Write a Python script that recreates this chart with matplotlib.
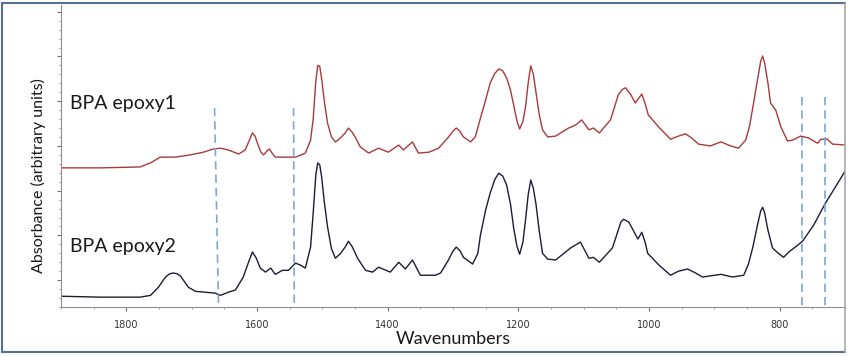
import numpy as np
import matplotlib
matplotlib.use('Agg')
import matplotlib.pyplot as plt
from matplotlib.lines import Line2D
from matplotlib.ticker import MultipleLocator

# wavenumber / absorbance (arbitrary units)
wn_1 = [1898, 1840, 1779, 1763, 1748, 1725, 1702, 1682, 1667, 1656, 1644, 1628, 1618, 1611,
        1607, 1603, 1599, 1594, 1590, 1584, 1581, 1576, 1572, 1557, 1541, 1526, 1518, 1514,
        1510, 1507, 1504, 1501, 1497, 1492, 1486, 1480, 1472, 1465, 1460, 1454, 1449, 1442,
        1429, 1414, 1399, 1383, 1376, 1362, 1353, 1337, 1322, 1308, 1300, 1295, 1289, 1284,
        1273, 1266, 1258, 1250, 1243, 1236, 1230, 1224, 1218, 1212, 1207, 1202, 1198, 1193,
        1189, 1185, 1181, 1177, 1173, 1168, 1163, 1155, 1143, 1123, 1112, 1103, 1092, 1085,
        1076, 1059, 1047, 1041, 1036, 1028, 1021, 1011, 1006, 1001, 985, 967, 955, 944, 935,
        924, 906, 890, 875, 863, 852, 846, 841, 834, 829, 826, 823, 818, 814, 806, 798, 788,
        780, 768, 756, 742, 737, 727, 719, 699]
abs_1 = [2.51, 2.51, 2.53, 2.62, 2.75, 2.75, 2.80, 2.86, 2.93, 2.95, 2.91, 2.82, 2.91, 3.15,
         3.29, 3.22, 3.05, 2.86, 2.80, 2.90, 2.93, 2.82, 2.75, 2.75, 2.75, 2.84, 3.13, 3.60,
         4.45, 4.80, 4.78, 4.50, 4.00, 3.51, 3.20, 3.09, 3.18, 3.29, 3.40, 3.30, 3.18, 2.98,
         2.84, 2.95, 2.86, 3.02, 2.91, 3.09, 2.84, 2.86, 2.95, 3.18, 3.33, 3.40, 3.32, 3.20,
         3.09, 3.20, 3.62, 4.03, 4.41, 4.62, 4.72, 4.68, 4.52, 4.25, 3.90, 3.55, 3.38, 3.55,
         3.87, 4.40, 4.79, 4.60, 4.20, 3.70, 3.36, 3.20, 3.22, 3.40, 3.47, 3.58, 3.36, 3.40,
         3.29, 3.58, 4.14, 4.26, 4.30, 4.15, 3.96, 4.16, 3.95, 3.69, 3.42, 3.15, 3.22, 3.27, 3.18,
         3.04, 3.00, 3.09, 3.00, 2.95, 3.13, 3.45, 3.87, 4.47, 4.90, 5.01, 4.85, 4.41, 3.96, 3.80,
         3.42, 3.11, 3.13, 3.22, 3.18, 3.06, 3.15, 3.15, 3.04, 3.02]

wn_2 = [1898, 1840, 1779, 1763, 1751, 1740, 1734, 1728, 1722, 1717, 1705, 1694, 1679, 1664,
        1656, 1644, 1633, 1621, 1613, 1607, 1601, 1595, 1587, 1579, 1572, 1561, 1552, 1541,
        1534, 1526, 1518, 1514, 1510, 1507, 1504, 1501, 1497, 1492, 1486, 1480, 1472, 1465,
        1460, 1454, 1446, 1434, 1423, 1414, 1396, 1383, 1373, 1362, 1350, 1327, 1319, 1307,
        1300, 1295, 1289, 1284, 1270, 1262, 1258, 1250, 1243, 1236, 1230, 1224, 1218, 1212,
        1207, 1202, 1198, 1193, 1189, 1185, 1181, 1177, 1173, 1168, 1163, 1155, 1143, 1120,
        1105, 1092, 1085, 1076, 1056, 1047, 1043, 1039, 1031, 1017, 1011, 1006, 1002, 985, 967,
        955, 941, 930, 918, 890, 872, 855, 848, 841, 834, 829, 826, 823, 818, 811, 802, 794,
        786, 776, 765, 748, 730, 711, 699]
abs_2 = [-0.36, -0.38, -0.38, -0.34, -0.16, 0.07, 0.14, 0.16, 0.14, 0.09, -0.16, -0.25, -0.27,
         -0.29, -0.34, -0.27, -0.22, 0.07, 0.40, 0.63, 0.49, 0.27, 0.18, 0.27, 0.13, 0.22, 0.22,
         0.38, 0.34, 0.27, 0.74, 1.50, 2.35, 2.62, 2.58, 2.30, 1.75, 1.19, 0.70, 0.49, 0.60,
         0.74, 0.87, 0.74, 0.49, 0.22, 0.18, 0.29, 0.18, 0.40, 0.25, 0.45, 0.11, 0.11, 0.16,
         0.45, 0.65, 0.74, 0.65, 0.51, 0.36, 0.60, 1.01, 1.57, 1.95, 2.25, 2.39, 2.33, 2.13,
         1.70, 1.15, 0.75, 0.58, 0.85, 1.34, 1.90, 2.24, 2.05, 1.70, 1.10, 0.60, 0.47, 0.45,
         0.72, 0.85, 0.49, 0.51, 0.40, 0.72, 1.12, 1.30, 1.36, 1.30, 0.92, 1.07, 0.85, 0.60,
         0.34, 0.11, 0.20, 0.25, 0.17, 0.07, 0.13, 0.07, 0.11, 0.35, 0.74, 1.23, 1.55, 1.63,
         1.50, 1.12, 0.72, 0.60, 0.51, 0.63, 0.74, 0.87, 1.23, 1.72, 2.17, 2.46]

# dashed marker lines: (wn top, wn bottom, y top, y bottom)
marker_lines = [(1665, 1659, 3.85, -0.52), (1544, 1543, 3.85, -0.56),
                (766, 766, 4.09, -0.6), (731, 731, 4.09, -0.6)]

labels = ['BPA epoxy1', 'BPA epoxy2']
label_y = [3.94, 0.76]

fig = plt.figure(figsize=(8.5, 3.57), dpi=100)
ax = fig.add_axes([61/850, 50/357, 784/850, 302/357])

ax.plot(wn_1, abs_1, color='#a83a3c', lw=1.0)
ax.plot(wn_2, abs_2, color='#1c1c38', lw=1.0)

for x0, x1, y0, y1 in marker_lines:
    ax.plot([x0, x1], [y0, y1], color='#7fa7d4', lw=1.2, ls=(0, (5, 3)))

for lab, yy in zip(labels, label_y):
    ax.text(1886, yy, lab, fontsize=14, family='Lato', color='#1a1a1a', va='center', ha='left')

ax.set_xlim(1900, 700)
ax.set_ylim(-0.6, 6.15)
ax.xaxis.set_major_locator(MultipleLocator(200))
ax.xaxis.set_minor_locator(MultipleLocator(50))
ax.yaxis.set_major_locator(MultipleLocator(1))
ax.yaxis.set_minor_locator(MultipleLocator(0.2))
ax.tick_params(axis='both', which='major', direction='out', length=3, color='#707070',
               labelsize=7, labelcolor='#333333', pad=6)
ax.tick_params(axis='both', which='minor', direction='out', length=1.5, color='#909090')
ax.yaxis.set_major_formatter(plt.NullFormatter())

for s in ['top', 'right']:
    ax.spines[s].set_visible(False)
for s in ['left', 'bottom']:
    ax.spines[s].set_color('#909090')

ax.set_xlabel('Wavenumbers', fontsize=13, family='Lato', color='#1a1a1a')
ax.xaxis.set_label_coords(0.5, -0.106)
ax.xaxis.label.set_va('center')
ax.set_ylabel('Absorbance (arbitrary units)', fontsize=11.5, family='Lato', color='#1a1a1a')
ax.yaxis.set_label_coords(-0.029, 0.434)
ax.yaxis.label.set_va('center')

# outer frame of the picture
W, H = 850, 357
frame = '#56728e'
fig.add_artist(Line2D([2/W, 845/W], [1 - 3/H, 1 - 3/H], color=frame, lw=1.5))
fig.add_artist(Line2D([2/W, 845/W], [1 - 352/H, 1 - 352/H], color=frame, lw=1.5))
fig.add_artist(Line2D([2/W, 2/W], [1 - 3/H, 1 - 352/H], color=frame, lw=1.5))
fig.add_artist(Line2D([845/W, 845/W], [1 - 3/H, 1 - 352/H], color='#a8a8a8', lw=1.2))

fig.savefig('out.png', dpi=100)
